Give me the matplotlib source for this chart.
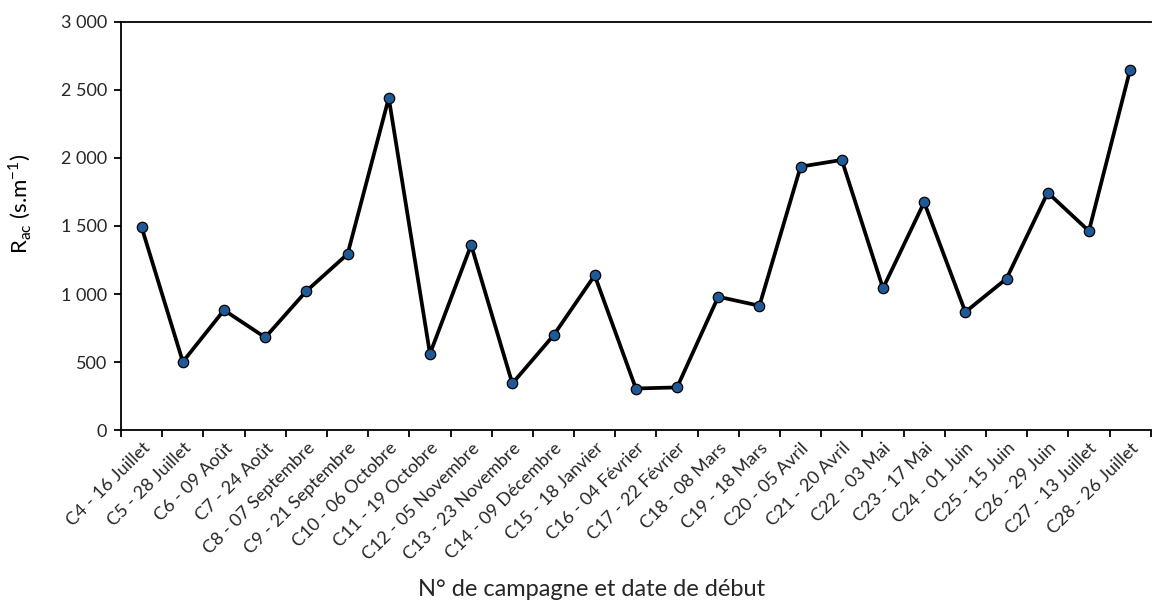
"""Résistance aérodynamique Rac par campagne."""

import matplotlib

matplotlib.use("Agg")

import matplotlib.pyplot as plt
from matplotlib.ticker import FuncFormatter

C_INK = "#000000"
C_TEXT = "#262626"
C_MARK = "#1f5a96"

campagnes = [
    "C4 - 16 Juillet", "C5 - 28 Juillet", "C6 - 09 Août", "C7 - 24 Août",
    "C8 - 07 Septembre", "C9 - 21 Septembre", "C10 - 06 Octobre",
    "C11 - 19 Octobre", "C12 - 05 Novembre", "C13 - 23 Novembre",
    "C14 - 09 Décembre", "C15 - 18 Janvier", "C16 - 04 Février",
    "C17 - 22 Février", "C18 - 08 Mars", "C19 - 18 Mars", "C20 - 05 Avril",
    "C21 - 20 Avril", "C22 - 03 Mai", "C23 - 17 Mai", "C24 - 01 Juin",
    "C25 - 15 Juin", "C26 - 29 Juin", "C27 - 13 Juillet", "C28 - 26 Juillet",
]
rac = [
    1490, 502, 882, 681, 1022, 1294, 2441, 561, 1360, 343, 696, 1137,
    306, 314, 980, 914, 1936, 1985, 1042, 1674, 868, 1113, 1745, 1463, 2647,
]
y_ticks = [0, 500, 1000, 1500, 2000, 2500, 3000]

plt.rcParams.update({
    "font.family": ["Lato", "DejaVu Sans"],
    "mathtext.fontset": "custom",
    "mathtext.rm": "Lato",
    "text.color": C_TEXT,
    "xtick.color": C_INK,
    "ytick.color": C_INK,
    "xtick.labelcolor": C_TEXT,
    "ytick.labelcolor": C_TEXT,
})

fig = plt.figure(figsize=(11.53, 6.05), dpi=100)
ax = fig.add_axes([0.105, 0.289, 0.893, 0.675])

x = list(range(len(campagnes)))
ax.plot(x, rac, "-o", color=C_INK, lw=2.7, ms=7.5, mfc=C_MARK, mec=C_INK,
        mew=0.9, zorder=3)

ax.set_xlim(-0.5, len(campagnes) - 0.5)
ax.set_ylim(0, 3000)
ax.set_yticks(y_ticks)
ax.yaxis.set_major_formatter(FuncFormatter(lambda v, _: f"{int(v):,}".replace(",", " ")))

# graduations entre les catégories, comme dans Excel
ax.set_xticks([i - 0.5 for i in range(len(campagnes) + 1)])
ax.set_xticklabels([])
ax.set_xticks(x, minor=True)
ax.set_xticklabels(campagnes, minor=True, rotation=45, ha="right",
                   rotation_mode="anchor", fontsize=13)
ax.tick_params(axis="x", which="minor", length=0, pad=7)
ax.tick_params(axis="x", which="major", length=5, width=1.3, direction="out")
ax.tick_params(axis="y", length=5, width=1.3, direction="out", labelsize=13, pad=5)

for side in ("left", "bottom", "top"):
    ax.spines[side].set_linewidth(1.3)
    ax.spines[side].set_color(C_INK)
ax.spines["right"].set_visible(False)

ax.set_ylabel(r"R$_{\mathrm{ac}}$ (s.m$^{\mathrm{-1}}$)", fontsize=16)
ax.yaxis.set_label_coords(-0.085, 0.555)
fig.text(0.513, 0.025, "N° de campagne et date de début", ha="center",
         va="center", fontsize=17)

fig.savefig("out.png", dpi=100, facecolor="white")
